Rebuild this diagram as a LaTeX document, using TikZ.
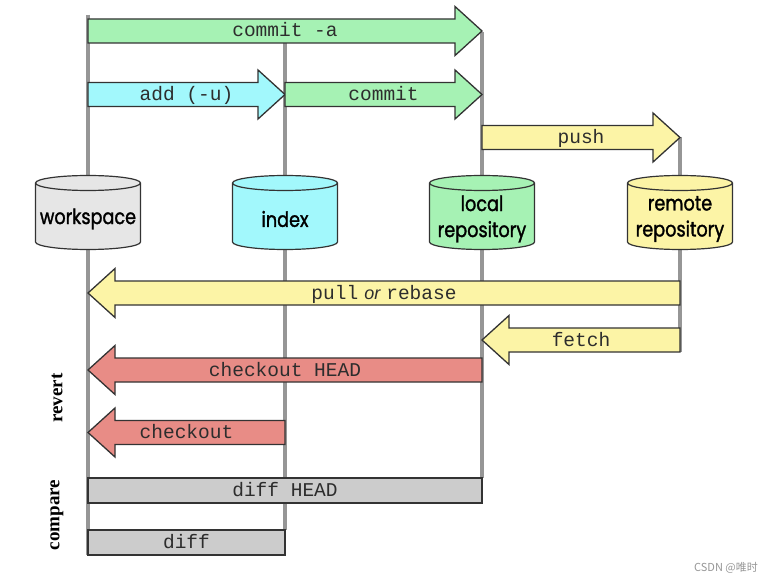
\documentclass[tikz,border=0pt]{standalone}
\usepackage{fontspec}
\newfontfamily\monof{Liberation Mono}
\newfontfamily\cylf[FakeStretch=0.84,FakeBold=1.4]{Poppins}
\newfontfamily\orf{Liberation Sans}
\newfontfamily\serf{Liberation Serif}
\newfontfamily\cjkf{Noto Sans CJK SC}
\definecolor{cgreen}{RGB}{166,242,180}
\definecolor{ccyan}{RGB}{162,248,252}
\definecolor{cyellow}{RGB}{252,244,166}
\definecolor{cred}{RGB}{232,140,134}
\definecolor{cgray}{RGB}{204,204,204}
\definecolor{cws}{RGB}{230,230,230}
\definecolor{vgray}{RGB}{150,150,150}
\definecolor{edge}{RGB}{51,51,51}
\definecolor{txt}{RGB}{45,45,45}
\tikzset{
  vline/.style={draw=vgray, line width=3.2pt},
  arr/.style={draw=edge, line width=1.3pt, line join=miter},
  albl/.style={font=\monof\fontsize{19.5}{20}\selectfont, text=txt, inner sep=0pt, anchor=base},
  cylbody/.style={draw=edge, line width=1.2pt},
  cyltxt/.style={font=\cylf\fontsize{21}{26}\selectfont, align=center, inner sep=0pt, text=black},
  sidelbl/.style={font=\serf\bfseries\fontsize{19}{19}\selectfont, rotate=90, inner sep=0pt},
  boxlbl/.style={draw=edge, line width=1.3pt, fill=cgray}
}
\newcommand\RArr[6]{%
  \draw[arr, fill=#5] (#2,{-(#4-12)}) -- ({#3-27},{-(#4-12)}) -- ({#3-27},{-(#4-24.5)}) -- (#3,{-#4})
     -- ({#3-27},{-(#4+24.5)}) -- ({#3-27},{-(#4+12)}) -- (#2,{-(#4+12)}) -- cycle;
  \node[albl] (#1) at ({(#2+#3)/2},{-(#4+6)}) {#6};}
\newcommand\LArr[6]{%
  \draw[arr, fill=#5] (#3,{-(#4-12)}) -- ({#2+27},{-(#4-12)}) -- ({#2+27},{-(#4-24.5)}) -- (#2,{-#4})
     -- ({#2+27},{-(#4+24.5)}) -- ({#2+27},{-(#4+12)}) -- (#3,{-(#4+12)}) -- cycle;
  \node[albl] (#1) at ({(#2+#3)/2},{-(#4+6)}) {#6};}
\newcommand\Cyl[4]{%
  \draw[cylbody, fill=#3] ({#2-52.5},-183) -- ({#2-52.5},-242)
     arc[start angle=180, end angle=360, x radius=52.5pt, y radius=7.5pt]
     -- ({#2+52.5},-183)
     arc[start angle=0, end angle=180, x radius=52.5pt, y radius=7.5pt] -- cycle;
  \draw[cylbody] ({#2-52.5},-183) arc[start angle=180, end angle=360, x radius=52.5pt, y radius=7.5pt];
  \node[cyltxt] (#1) at (#2,-219) {#4};}
\begin{document}
\begin{tikzpicture}[x=1pt,y=1pt]
\useasboundingbox (0,0) rectangle (778,-585);
% lanes
\coordinate (wsT) at (88,-15);   \coordinate (wsB) at (88,-555);
\coordinate (ixT) at (285,-43);  \coordinate (ixB) at (285,-530);
\coordinate (lrT) at (482,-32);  \coordinate (lrB) at (482,-478);
\coordinate (rrT) at (680,-137); \coordinate (rrB) at (680,-352);
\draw[vline] (wsT) -- (wsB);
\draw[vline] (ixT) -- (ixB);
\draw[vline] (lrT) -- (lrB);
\draw[vline] (rrT) -- (rrB);
% arrows
\RArr{commita}{88}{482}{31}{cgreen}{commit -a}
\RArr{add}{88}{285}{94.5}{ccyan}{add (-u)}
\RArr{commit}{285}{482}{94.5}{cgreen}{commit}
\RArr{push}{482}{680}{137.5}{cyellow}{push}
\LArr{pull}{88}{680}{293}{cyellow}{pull\hspace{6pt}{\orf\itshape\fontsize{18}{18}\selectfont or}\hspace{6pt}rebase}
\LArr{fetch}{482}{680}{340}{cyellow}{fetch}
\LArr{coHEAD}{88}{482}{370}{cred}{checkout HEAD}
\LArr{co}{88}{285}{432.5}{cred}{checkout}
% compare boxes
\draw[boxlbl] (88,-478) rectangle (482,-503);
\node[albl] (diffHEAD) at (285,{-(490.5+6)}) {diff HEAD};
\draw[boxlbl] (88,-530) rectangle (285,-555);
\node[albl] (diff) at (186.5,{-(542.5+6)}) {diff};
% cylinders
\Cyl{workspace}{88}{cws}{workspace}
\Cyl{index}{285}{ccyan}{index}
\Cyl{local}{482}{cgreen}{local\\repository}
\Cyl{remote}{680}{cyellow}{remote\\repository}
% side labels
\node[sidelbl] (revert) at (57,-398) {revert};
\node[sidelbl] (compare) at (57,-515) {compare};
% watermark
\node[font=\cjkf\fontsize{11}{11}\selectfont, text=vgray, inner sep=0pt] (wm) at (726,-568) {CSDN @唯时};
\end{tikzpicture}
\end{document}
